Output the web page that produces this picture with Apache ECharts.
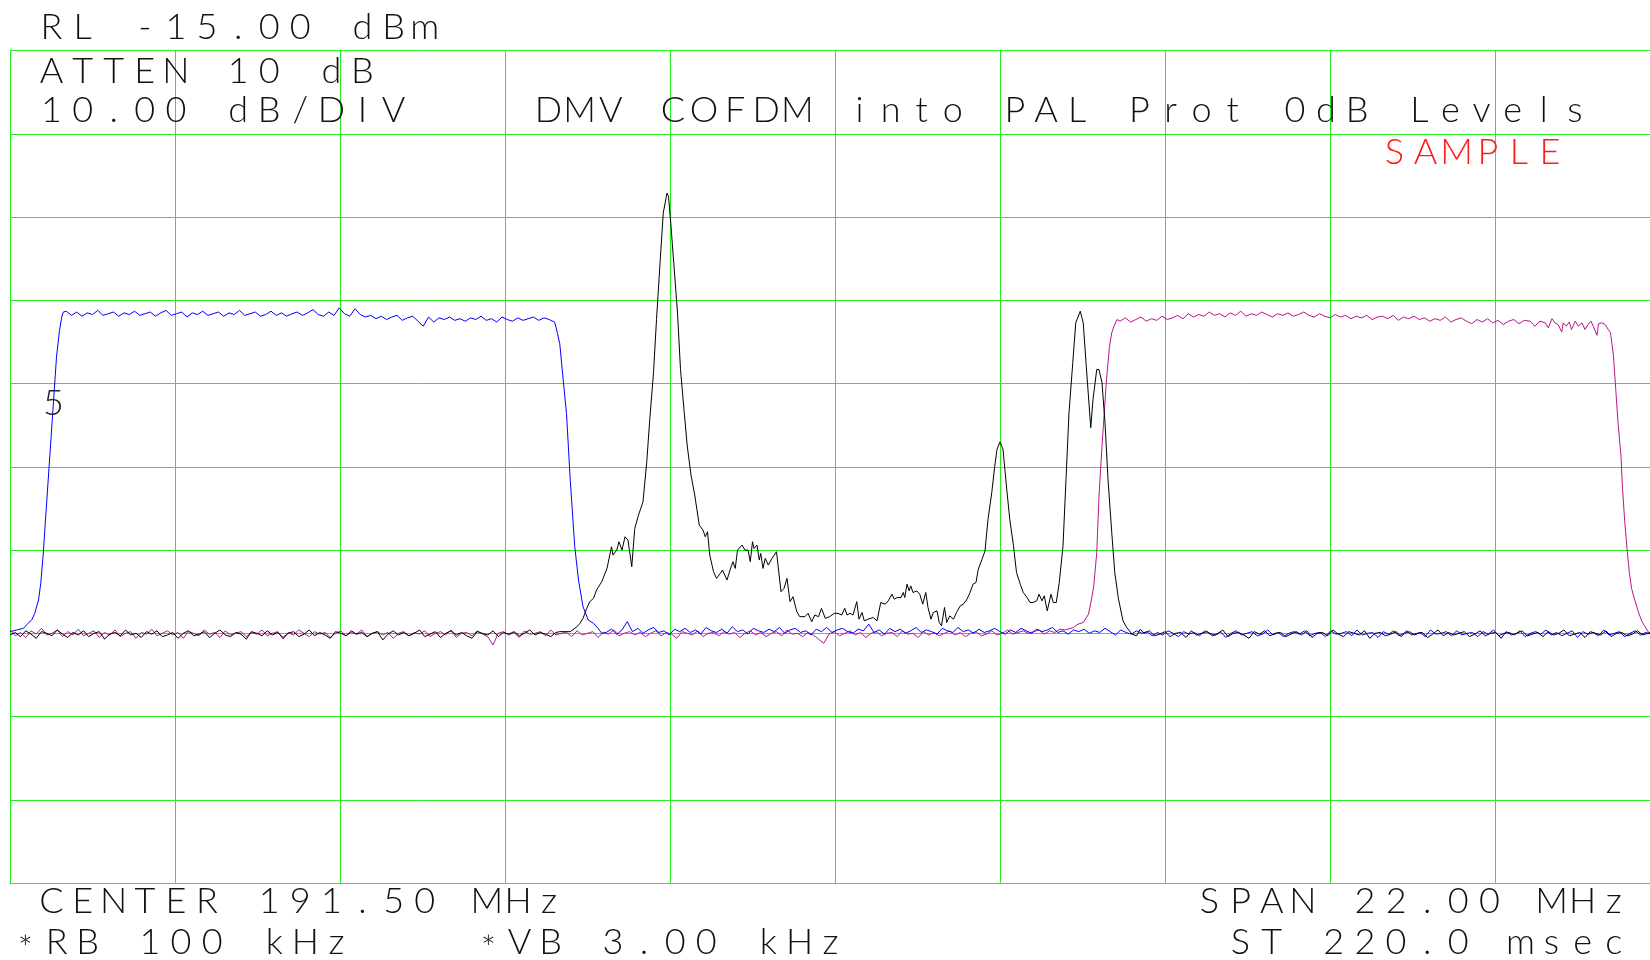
<!DOCTYPE html>
<html><head><meta charset="utf-8">
<script src="https://cdn.jsdelivr.net/npm/echarts@6/dist/echarts.min.js"></script>
<style>html,body{margin:0;padding:0;background:#fff;overflow:hidden;width:1650px;height:960px}#c{width:1662px;height:960px}</style>
</head><body><div id="c"></div><script>
// ---------- axis definitions ----------
const FREQ_MIN = 180.5, FREQ_MAX = 202.5;   // CENTER 191.50, SPAN 22.00 MHz
const LEVEL_MIN = -115, LEVEL_MAX = -15;    // RL -15 dBm, 10 dB/DIV
const DIVISIONS = 10;
const FLOOR_STEP = 0.07;                    // MHz between read-off samples in noisy stretches

// ---------- text ----------
const headerLines = ['RL -15.00 dBm', 'ATTEN 10 dB', '10.00 dB/DIV'];
const titleText = 'DMV COFDM into PAL Prot 0dB Levels';
const detectorText = 'SAMPLE';
const markerText = '5';
const footerLeft = ['CENTER 191.50 MHz', '*RB 100 kHz', '*VB 3.00 kHz'];
const footerRight = ['SPAN 22.00 MHz', 'ST 220.0 msec'];

// ---------- black trace ----------
const BLACK_FLOOR_LEFT_START = 180.50;
const blackFloorLeft = [
-85.2,-84.9,-85.4,-84.7,-85.1,-85.6,-84.8,-85.0,-85.3,-84.6,-85.1,-85.5,-84.9,-85.2,-84.7,
-85.4,-85.0,-84.8,-85.7,-85.1,-84.9,-85.3,-84.6,-85.2,-85.0,-85.5,-84.8,-85.1,-84.7,-85.4,
-85.2,-84.9,-85.6,-85.0,-84.7,-85.3,-85.1,-84.8,-85.5,-85.0,-84.6,-85.2,-85.4,-84.9,-85.1,
-85.7,-84.8,-85.0,-85.3,-84.7,-85.2,-84.9,-85.5,-85.0,-84.8,-85.4,-85.1,-84.6,-85.3,-84.9,
-85.2,-85.6,-84.8,-85.0,-85.3,-84.7,-85.1,-84.9,-85.4,-85.0,-84.8,-85.8,-85.1,-84.7,-85.2,
-84.9,-85.3,-85.0,-84.6,-85.4,-85.1,-84.8,-85.5,-85.0,-84.7,-85.2,-84.9,-85.3,-85.6,-84.8,
-85.0,-85.2,-84.7,-85.4,-84.9,-85.1,-84.8,-85.3,-85.0,-84.6,-85.2,-84.9,-85.1,-85.4,-84.9];
const blackFeatures = [
[187.83,-84.8],[187.97,-84.8],[188.06,-84.2],[188.10,-83.8],[188.14,-83.2],[188.19,-82.0],[188.23,-81.2],[188.28,-80.8],
[188.32,-79.8],[188.34,-80.0],[188.39,-78.8],[188.41,-78.6],[188.46,-77.2],[188.52,-74.6],[188.54,-75.6],[188.59,-75.0],
[188.62,-74.0],[188.66,-75.0],[188.70,-73.4],[188.74,-73.8],[188.79,-77.0],[188.83,-72.4],[188.88,-70.8],[188.94,-69.2],
[188.99,-64.4],[189.03,-59.3],[189.08,-53.7],[189.12,-47.3],[189.17,-40.1],[189.21,-34.5],[189.26,-32.1],[189.28,-32.5],
[189.31,-35.7],[189.35,-40.5],[189.40,-46.5],[189.44,-53.3],[189.49,-58.5],[189.53,-62.5],[189.58,-66.0],[189.63,-68.4],
[189.69,-72.0],[189.74,-72.6],[189.77,-73.4],[189.80,-72.8],[189.83,-75.6],[189.88,-77.6],[189.92,-78.4],[189.97,-77.8],
[190.00,-77.4],[190.06,-78.6],[190.10,-77.4],[190.14,-76.4],[190.17,-77.2],[190.20,-75.0],[190.26,-74.4],[190.30,-75.0],
[190.34,-75.0],[190.37,-76.4],[190.40,-74.0],[190.42,-74.8],[190.46,-74.4],[190.49,-76.2],[190.51,-75.4],[190.54,-77.2],
[190.57,-76.0],[190.61,-76.8],[190.66,-76.0],[190.72,-75.2],[190.78,-80.0],[190.82,-79.6],[190.86,-78.4],[190.90,-81.2],
[190.94,-80.6],[190.99,-82.4],[191.03,-83.0],[191.10,-83.0],[191.14,-82.6],[191.19,-83.6],[191.23,-82.8],[191.28,-83.0],
[191.32,-82.0],[191.37,-83.2],[191.39,-83.4],[191.43,-83.0],[191.49,-82.6],[191.54,-82.6],[191.59,-82.8],[191.63,-82.0],
[191.66,-82.8],[191.70,-82.6],[191.74,-82.8],[191.79,-81.2],[191.82,-83.3],[191.86,-82.5],[191.89,-83.5],[191.94,-83.3],
[192.01,-83.1],[192.06,-83.5],[192.11,-81.3],[192.17,-81.5],[192.21,-81.1],[192.26,-80.3],[192.29,-80.9],[192.33,-80.7],
[192.38,-80.7],[192.41,-80.1],[192.43,-80.7],[192.46,-79.1],[192.49,-79.9],[192.51,-79.3],[192.54,-80.1],[192.59,-79.9],
[192.63,-80.3],[192.67,-81.5],[192.71,-80.1],[192.74,-81.9],[192.78,-83.3],[192.81,-82.5],[192.86,-82.3],[192.89,-83.7],
[192.92,-84.1],[192.96,-81.9],[192.99,-83.7],[193.03,-82.9],[193.08,-83.3],[193.12,-82.5],[193.17,-81.7],[193.21,-81.5],
[193.26,-80.9],[193.30,-80.1],[193.34,-79.1],[193.38,-78.9],[193.41,-77.3],[193.46,-76.1],[193.50,-75.1],[193.54,-71.3],
[193.59,-68.1],[193.63,-64.9],[193.66,-62.9],[193.70,-62.0],[193.74,-62.9],[193.79,-67.7],[193.83,-71.3],[193.88,-74.5],
[193.92,-77.7],[193.97,-79.1],[194.01,-80.1],[194.06,-80.7],[194.10,-81.3],[194.14,-81.3],[194.19,-81.1],[194.22,-80.3],
[194.26,-81.1],[194.29,-80.5],[194.33,-82.3],[194.38,-80.3],[194.41,-81.3],[194.45,-81.3],[194.49,-78.9],[194.54,-74.5],
[194.58,-66.5],[194.62,-58.5],[194.67,-52.5],[194.71,-47.7],[194.77,-46.3],[194.81,-47.7],[194.85,-52.9],[194.91,-60.3],
[194.94,-56.9],[194.99,-53.3],[195.02,-53.3],[195.06,-54.9],[195.10,-59.7],[195.14,-66.5],[195.19,-72.9],[195.23,-77.7],
[195.28,-80.9],[195.34,-83.5],[195.39,-84.3],[195.46,-85.1],[195.52,-85.3],[195.57,-84.5]];
const BLACK_FLOOR_RIGHT_START = 195.62;
const blackFloorRight = [
-85.0,-84.7,-85.3,-85.1,-84.8,-85.4,-85.0,-84.9,-85.5,-84.7,-85.2,-85.0,-84.8,-85.3,-85.1,
-84.6,-85.4,-85.0,-84.9,-85.2,-85.6,-84.8,-85.1,-84.7,-85.3,-85.0,-84.9,-85.4,-85.1,-84.8,
-85.2,-84.7,-85.5,-85.0,-84.9,-85.3,-84.6,-85.1,-85.4,-84.8,-85.0,-85.2,-84.7,-85.6,-85.0,
-84.9,-85.3,-85.1,-84.8,-85.4,-84.7,-85.2,-85.0,-84.9,-85.5,-85.1,-84.6,-85.3,-84.9,-85.2,
-85.0,-84.8,-85.4,-85.1,-84.7,-85.3,-85.0,-84.9,-85.6,-84.8,-85.2,-85.0,-84.7,-85.3,-85.1,
-84.9,-85.4,-84.8,-85.2,-85.0,-84.6,-85.3,-85.1,-84.9,-85.5,-84.8,-85.0,-85.2,-84.7,-85.4,
-85.0,-84.9,-85.3,-85.1,-84.7,-85.2,-85.0,-84.8,-85.1];

// ---------- blue trace ----------
const blueRise = [
[180.50,-84.8],[180.59,-84.6],[180.68,-84.4],[180.74,-83.8],[180.79,-83.4],[180.83,-82.6],[180.88,-81.0],[180.91,-79.0],
[180.94,-75.8],[180.97,-71.8],[181.00,-67.8],[181.03,-63.8],[181.06,-59.8],[181.09,-55.8],[181.12,-51.8],[181.16,-48.6],
[181.19,-47.0],[181.21,-46.4]];
const BLUE_PLATEAU_START = 181.25;
const bluePlateau = [
-46.3,-46.8,-46.4,-46.9,-46.5,-46.7,-46.2,-46.8,-46.6,-46.4,-46.9,-46.5,-46.7,-46.3,-46.8,
-46.6,-46.4,-46.9,-46.5,-46.2,-46.8,-46.6,-46.4,-47.0,-46.5,-46.7,-46.3,-46.8,-46.6,-46.4,
-46.9,-46.5,-46.7,-46.2,-46.8,-46.6,-46.4,-46.9,-46.7,-46.3,-46.8,-46.5,-46.9,-46.6,-46.4,
-46.8,-46.5,-46.1,-46.7,-46.9,-46.4,-46.8,-45.9,-46.6,-46.9,-46.0,-46.7,-47.0,-46.8,-47.2,
-46.9,-47.3,-47.0,-46.8,-47.4,-47.1,-46.9,-47.5,-48.1,-47.0,-47.6,-47.1,-47.3,-47.0,-47.4,
-47.2,-47.5,-47.1,-47.3,-46.9,-47.4,-47.2,-47.6,-47.0,-47.3,-47.5,-47.1,-47.4,-47.2,-47.0,
-47.4,-47.1,-47.3];
const blueFall = [
[187.76,-47.6],[187.78,-48.2],[187.80,-49.0],[187.83,-50.2],[187.87,-54.0],[187.92,-58.6],[187.97,-66.6],[188.03,-74.6],
[188.08,-78.6],[188.14,-81.8],[188.21,-83.4],[188.28,-83.8],[188.34,-84.4],[188.39,-85.0]];
const BLUE_FLOOR_START = 188.45;
const blueFloor = [
-84.9,-84.5,-85.1,-84.6,-83.6,-84.8,-84.4,-85.0,-84.6,-84.3,-84.9,-84.7,-85.2,-84.5,-84.8,
-84.4,-84.9,-84.6,-85.1,-84.3,-84.7,-84.9,-84.5,-85.0,-84.2,-84.8,-84.6,-85.1,-84.4,-84.7,
-84.9,-84.5,-84.8,-84.3,-85.0,-84.6,-84.4,-84.9,-84.7,-85.2,-84.5,-84.8,-84.3,-84.9,-84.6,
-84.4,-84.8,-85.0,-84.5,-84.7,-83.9,-84.9,-84.6,-85.1,-84.4,-84.8,-84.5,-85.0,-84.7,-84.3,
-84.9,-84.6,-84.8,-85.1,-84.4,-84.7,-84.9,-84.3,-84.8,-84.6,-85.0,-84.5,-84.9,-84.7,-84.4,
-84.8,-85.1,-84.6,-84.9,-84.4,-84.7,-85.0,-84.5,-84.8,-84.6,-84.3,-84.9,-84.7,-85.1,-84.6,
-84.8,-84.5,-85.0,-84.7,-84.9,-84.4,-84.8,-85.2,-84.6,-84.9,-85.1,-84.7,-85.0,-84.8,-85.3,
-84.9,-85.2,-84.7,-85.0,-85.4,-84.8,-85.1,-84.9,-85.3,-84.7,-85.0,-85.2,-84.8,-85.5,-85.0,
-84.7,-85.2,-85.0,-84.8,-85.3,-85.1,-84.6,-85.2,-84.9,-85.4,-85.0,-84.8,-85.1,-84.7,-85.3,
-85.0,-84.9,-85.4,-84.7,-85.1,-85.0,-84.8,-85.3,-84.6,-85.2,-85.0,-84.9,-85.5,-84.8,-85.1,
-84.7,-85.3,-85.0,-84.8,-85.2,-84.9,-85.4,-84.6,-85.1,-85.0,-84.8,-85.3,-84.7,-85.2,-85.0,
-84.9,-85.4,-84.8,-85.1,-84.6,-85.3,-85.0,-84.9,-85.2,-84.7,-85.4,-85.0,-84.8,-85.1,-84.6,
-85.2,-84.9,-85.3,-85.0,-84.7,-85.5,-84.8,-85.1,-84.9,-85.3,-84.6,-85.2,-85.0,-84.8,-85.4,
-85.0,-84.7,-85.2,-84.9,-85.1,-84.8];

// ---------- magenta trace ----------
const MAGENTA_FLOOR_START = 180.50;
const magentaFloor = [
-84.6,-85.3,-84.9,-85.5,-84.7,-85.1,-84.4,-85.2,-85.0,-84.6,-85.4,-84.8,-85.2,-84.5,-85.3,
-85.0,-84.7,-85.5,-84.9,-85.2,-84.6,-85.4,-85.0,-84.8,-85.6,-84.9,-85.1,-84.5,-85.3,-85.0,
-84.7,-85.2,-84.9,-85.6,-84.8,-85.0,-85.3,-84.6,-85.1,-84.9,-85.5,-84.7,-85.2,-85.0,-84.8,
-85.4,-84.9,-85.1,-84.6,-85.3,-85.0,-84.8,-85.7,-84.9,-85.2,-84.6,-85.0,-85.4,-84.8,-85.1,
-84.9,-85.5,-85.0,-84.7,-85.3,-84.9,-85.1,-84.6,-85.4,-85.0,-84.8,-85.2,-84.9,-85.6,-85.0,
-84.8,-85.3,-84.9,-85.1,-84.7,-85.4,-85.0,-84.8,-85.2,-84.6,-85.5,-85.0,-84.9,-85.3,-84.7,
-85.1,-85.4,-86.4,-85.0,-84.8,-85.2,-84.9,-85.5,-84.7,-85.1,-85.0,-84.8,-85.3,-84.6,-85.2,
-85.0,-84.9,-85.4,-84.7,-85.2,-85.0,-84.8,-85.5,-84.9,-85.1,-84.6,-85.3,-85.0,-84.8,-85.2,
-84.9,-85.4,-85.0,-84.7,-85.3,-84.9,-85.1,-85.6,-84.8,-85.0,-85.2,-84.7,-85.4,-85.0,-84.9,
-85.3,-84.8,-85.1,-84.9,-85.5,-85.0,-84.7,-85.2,-84.9,-85.4,-85.0,-84.8,-85.3,-84.6,-85.1,
-85.0,-85.4,-84.9,-85.2,-85.7,-86.2,-85.1,-84.8,-85.3,-85.0,-84.7,-85.2,-84.9,-85.5,-85.0,
-84.8,-85.3,-85.0,-84.9,-85.4,-84.7,-85.1,-85.0,-85.5,-84.8,-85.2,-84.9,-85.3,-85.0,-84.7,
-85.2,-84.9,-85.4,-85.0,-84.8,-85.3,-85.1,-84.7,-85.2,-85.0,-84.6,-85.1,-84.9,-84.7,-85.0,
-84.8,-84.6,-85.1,-84.7,-84.9,-84.5,-84.6];
const magentaRise = [
[194.68,-84.3],[194.74,-83.9],[194.81,-83.7],[194.88,-82.7],[194.92,-80.9],[194.95,-79.3],[194.99,-75.3],[195.02,-68.5],
[195.06,-62.5],[195.09,-58.5],[195.12,-54.5],[195.16,-50.5],[195.19,-48.9],[195.22,-48.1],[195.26,-47.3]];
const MAGENTA_PLATEAU_START = 195.30;
const magentaPlateau = [
-47.5,-47.1,-47.6,-47.3,-47.0,-47.5,-47.2,-47.4,-46.9,-47.3,-47.1,-46.8,-47.2,-46.6,-47.0,
-46.7,-46.9,-46.4,-46.8,-46.6,-47.0,-46.5,-46.8,-46.3,-46.9,-46.6,-46.8,-46.4,-46.7,-47.0,
-46.6,-46.8,-46.5,-46.9,-46.7,-46.4,-46.8,-47.0,-46.6,-46.9,-47.1,-46.7,-47.0,-46.8,-47.2,
-46.9,-47.1,-46.8,-47.3,-47.0,-46.9,-47.2,-46.8,-47.4,-47.0,-47.2,-46.9,-47.3,-47.1,-47.5,
-47.2,-47.4,-47.0,-47.6,-47.3,-47.1,-47.5,-47.8,-47.3,-47.6,-47.2,-47.7,-47.4,-47.9,-47.5,
-47.3,-47.8,-47.4];
const magentaFall = [
[200.77,-47.5],[200.83,-48.1],[200.90,-47.5],[200.97,-47.7],[201.01,-48.3],[201.06,-47.2],[201.10,-47.7],[201.14,-47.9],
[201.19,-48.8],[201.21,-47.7],[201.25,-48.1],[201.29,-47.6],[201.32,-48.5],[201.37,-47.5],[201.41,-48.1],[201.46,-47.7],
[201.50,-48.5],[201.54,-47.9],[201.58,-47.5],[201.61,-48.1],[201.66,-49.2],[201.68,-47.8],[201.72,-47.7],[201.77,-47.9],
[201.81,-48.5],[201.84,-48.9],[201.88,-51.7],[201.91,-55.7],[201.94,-59.7],[201.98,-63.7],[202.00,-67.6],[202.03,-71.6],
[202.06,-74.8],[202.09,-77.6],[202.12,-79.6],[202.17,-81.2],[202.21,-82.4],[202.26,-83.6],[202.30,-84.2],[202.34,-84.8],
[202.37,-85.0],[202.43,-85.2],[202.50,-84.9]];

// ---------- build ----------
function uniformSegment(start, values) {
  return values.map((v, i) => [+(start + i * FLOOR_STEP).toFixed(3), v]);
}
const blackData = [].concat(uniformSegment(BLACK_FLOOR_LEFT_START, blackFloorLeft), blackFeatures,
  uniformSegment(BLACK_FLOOR_RIGHT_START, blackFloorRight));
const blueData = [].concat(blueRise, uniformSegment(BLUE_PLATEAU_START, bluePlateau), blueFall,
  uniformSegment(BLUE_FLOOR_START, blueFloor));
const magentaData = [].concat(uniformSegment(MAGENTA_FLOOR_START, magentaFloor), magentaRise,
  uniformSegment(MAGENTA_PLATEAU_START, magentaPlateau), magentaFall);

// plotter-style text: one glyph per fixed cell
const PITCH = 31.1, CELL = 19, FONT_SIZE = 36;
function glyphRow(str, x0, yMid, color) {
  const out = [];
  for (let i = 0; i < str.length; i++) {
    const ch = str[i];
    if (ch === ' ') continue;
    const isStar = ch === '*';
    out.push({
      type: 'text', silent: true, z: 100,
      x: x0 + i * PITCH + CELL / 2, y: yMid + (isStar ? 7 : 0),
      style: { text: ch, fill: color, fontSize: FONT_SIZE, fontFamily: 'Lato', fontWeight: 300,
               align: 'center', verticalAlign: 'middle', textAlign: 'center', textVerticalAlign: 'middle' }
    });
  }
  return out;
}
const INK = '#111111';
const graphics = [].concat(
  glyphRow(headerLines[0], 42, 27, INK),
  glyphRow(headerLines[1], 42, 71, INK),
  glyphRow(headerLines[2], 42, 110, INK),
  glyphRow(titleText, 539, 110.5, INK),
  glyphRow(detectorText, 1385, 152, '#ff1a1a'),
  glyphRow(markerText, 44, 403, '#222222'),
  glyphRow(footerLeft[0], 42, 901.5, INK),
  glyphRow(footerLeft[1], 16, 942, INK),
  glyphRow(footerLeft[2], 479, 942, INK),
  glyphRow(footerRight[0], 1200, 901.5, INK),
  glyphRow(footerRight[1], 1231, 942, INK)
);

const GRID_GREEN = '#22ee22';
const chart = echarts.init(document.getElementById('c'), null, { renderer: 'canvas', width: 1662, height: 960 });
chart.setOption({
  animation: false,
  backgroundColor: '#ffffff',
  grid: { left: 10, top: 50.7, width: 1650, height: 832.3, show: false },
  xAxis: [
    { type: 'value', min: 0, max: DIVISIONS, interval: 1,
      axisLine: { show: true, lineStyle: { color: GRID_GREEN, width: 1 } }, axisTick: { show: false },
      axisLabel: { show: false }, splitLine: { show: true, lineStyle: { color: GRID_GREEN, width: 1 } } },
    { type: 'value', min: FREQ_MIN, max: FREQ_MAX, show: false, splitLine: { show: false } }
  ],
  yAxis: [
    { type: 'value', min: 0, max: DIVISIONS, interval: 1,
      axisLine: { show: true, lineStyle: { color: GRID_GREEN, width: 1 } }, axisTick: { show: false },
      axisLabel: { show: false }, splitLine: { show: true, lineStyle: { color: GRID_GREEN, width: 1 } } },
    { type: 'value', min: LEVEL_MIN, max: LEVEL_MAX, show: false, splitLine: { show: false } }
  ],
  series: [
    { name: 'magenta', type: 'line', xAxisIndex: 1, yAxisIndex: 1, data: magentaData, symbol: 'none',
      lineStyle: { color: '#b8168a', width: 1 }, z: 3 },
    { name: 'blue', type: 'line', xAxisIndex: 1, yAxisIndex: 1, data: blueData, symbol: 'none',
      lineStyle: { color: '#0000ff', width: 1 }, z: 4 },
    { name: 'black', type: 'line', xAxisIndex: 1, yAxisIndex: 1, data: blackData, symbol: 'none',
      lineStyle: { color: '#000000', width: 1 }, z: 5 }
  ],
  graphic: graphics
});
</script></body></html>
